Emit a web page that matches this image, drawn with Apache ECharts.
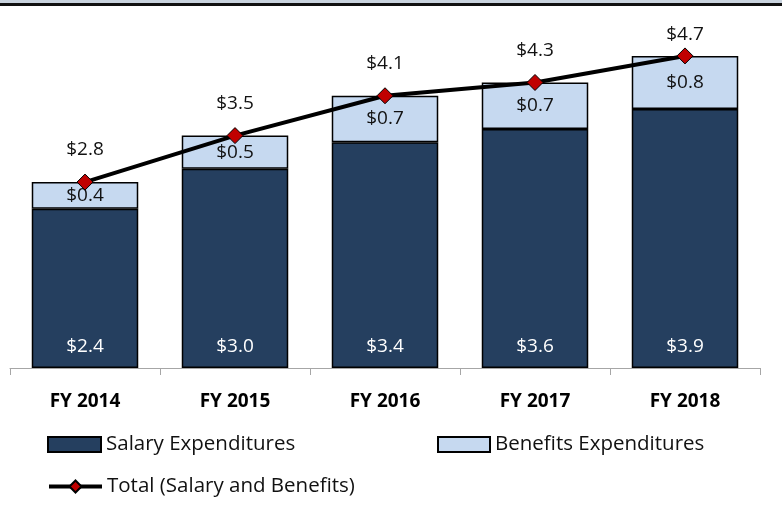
<!DOCTYPE html>
<html><head><meta charset="utf-8">
<script src="https://cdn.jsdelivr.net/npm/echarts@6/dist/echarts.min.js"></script>
<style>html,body{margin:0;padding:0;background:#fff}#c{width:782px;height:512px}</style>
</head><body><div id="c"></div>
<script>
const categories = ['FY 2014','FY 2015','FY 2016','FY 2017','FY 2018'];
const salary = [2.4, 3.0, 3.4, 3.6, 3.9];
const benefits = [0.4, 0.5, 0.7, 0.7, 0.8];
const total = [2.8, 3.5, 4.1, 4.3, 4.7];

const FONT = '"Open Sans", "Noto Sans", sans-serif';
const chart = echarts.init(document.getElementById('c'));
const money = p => '$' + Number(p.value).toFixed(1);
const legendText = {fontFamily:FONT, fontSize:20.5, color:'#111'};
const totalData = total.map((v, i) => i === total.length - 1
  ? {value: v, label: {distance: 3}} : v);
chart.setOption({
  animation: false,
  textStyle: {fontFamily: FONT},
  graphic: [
    {type:'rect', shape:{x:0,y:0,width:782,height:3}, style:{fill:'#c9d3de'}},
    {type:'rect', shape:{x:0,y:3,width:782,height:3}, style:{fill:'#111'}}
  ],
  grid: {left:10, right:22, top:36, bottom:144},
  xAxis: {
    type:'category', data: categories,
    axisLine:{lineStyle:{color:'#a6a6a6', width:1}},
    axisTick:{show:true, length:7, lineStyle:{color:'#a6a6a6'}},
    axisLabel:{fontFamily:FONT, fontWeight:'bold', fontSize:19, color:'#000', margin:24}
  },
  yAxis: {type:'value', min:0, max:5, show:false, splitLine:{show:false}},
  legend: [
    {left:47, top:434, padding:0, itemWidth:53, itemHeight:15, icon:'rect',
     textStyle:legendText, data:[{name:'Salary Expenditures'}]},
    {left:437, top:434, padding:0, itemWidth:52, itemHeight:15, icon:'rect',
     textStyle:legendText, data:[{name:'Benefits Expenditures'}]},
    {left:47, top:476, padding:0, itemWidth:53, itemHeight:15,
     textStyle:legendText,
     data:[{name:'Total (Salary and Benefits)', lineStyle:{width:4}}]}
  ],
  series: [
    {name:'Salary Expenditures', type:'bar', stack:'s', data: salary, barWidth:'71%',
     itemStyle:{color:'#253f5f', borderColor:'#000', borderWidth:1.5},
     label:{show:true, position:'insideBottom', distance:12, formatter:money,
            color:'#fff', fontSize:19, fontFamily:FONT}},
    {name:'Benefits Expenditures', type:'bar', stack:'s', data: benefits,
     itemStyle:{color:'#c6d9f0', borderColor:'#000', borderWidth:1.5},
     label:{show:true, position:'inside', formatter:money,
            color:'#111', fontSize:19, fontFamily:FONT}},
    {name:'Total (Salary and Benefits)', type:'line', data: totalData, z:10,
     symbol:'diamond', symbolSize:16,
     lineStyle:{color:'#000', width:4},
     itemStyle:{color:'#c00000', borderColor:'#000', borderWidth:1},
     label:{show:true, position:'top', distance:14, formatter:money,
            color:'#111', fontSize:19, fontFamily:FONT}}
  ]
});
</script></body></html>
